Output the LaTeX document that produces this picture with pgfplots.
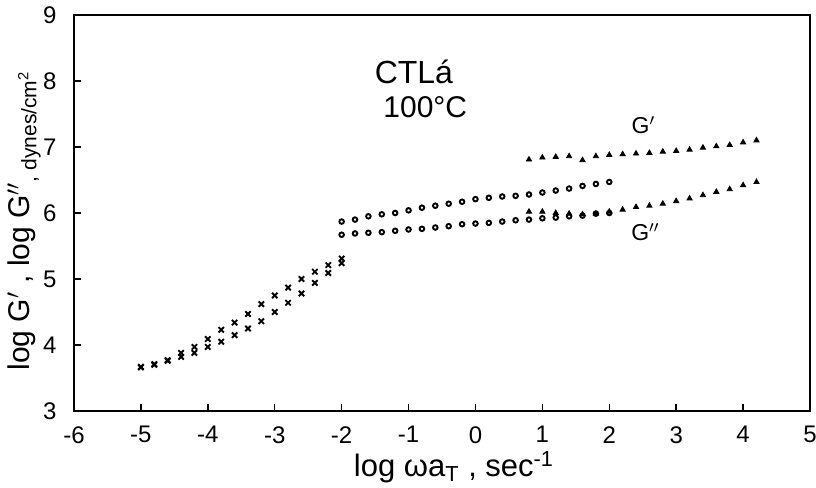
\documentclass[border=0pt]{standalone}
\usepackage{fontspec}
\setmainfont{Liberation Sans}
\usepackage{pgfplots}
\pgfplotsset{compat=1.18}
\usetikzlibrary{calc}

% Dynamic moduli of CTLa at 100 C, reduced to a common frequency scale
\pgfplotstableread{
x     gp     gpp
-5.0  3.67   3.66
-4.8  3.71   3.70
-4.6  3.77   3.76
-4.4  3.88   3.82
-4.2  3.97   3.88
-4.0  4.09   3.97
-3.8  4.23   4.05
-3.6  4.34   4.15
-3.4  4.47   4.25
-3.2  4.62   4.36
-3.0  4.75   4.50
-2.8  4.87   4.64
-2.6  5.00   4.78
-2.4  5.11   4.94
-2.2  5.21   5.09
-2.0  5.31   5.24
}\lowfreq

\pgfplotstableread{
x     gp     gpp
-2.0  5.87   5.67
-1.8  5.90   5.69
-1.6  5.95   5.70
-1.4  5.98   5.71
-1.2  6.00   5.73
-1.0  6.04   5.75
-0.8  6.08   5.76
-0.6  6.11   5.78
-0.4  6.14   5.80
-0.2  6.17   5.83
 0.0  6.21   5.84
 0.2  6.23   5.85
 0.4  6.25   5.87
 0.6  6.26   5.89
 0.8  6.28   5.90
 1.0  6.31   5.92
 1.2  6.34   5.93
 1.4  6.37   5.95
 1.6  6.41   5.96
 1.8  6.44   5.99
 2.0  6.47   6.00
}\midfreq

\pgfplotstableread{
x     gp     gpp
0.8   6.81   6.02
1.0   6.84   6.02
1.2   6.85   6.00
1.4   6.86   5.99
1.6   6.80   5.98
1.8   6.86   5.99
2.0   6.88   6.02
2.2   6.89   6.05
2.4   6.90   6.09
2.6   6.91   6.11
2.8   6.93   6.14
3.0   6.94   6.18
3.2   6.96   6.22
3.4   6.99   6.27
3.6   7.01   6.32
3.8   7.03   6.36
4.0   7.07   6.42
4.2   7.10   6.47
}\highfreq

\begin{document}
\begin{tikzpicture}
\begin{axis}[
  scale only axis,
  width=368pt, height=198pt,
  xmin=-6, xmax=5, ymin=3, ymax=9,
  xtick={-6,...,5}, ytick={3,...,9},
  xticklabels={-6,-5,-4,-3,-2,-1,0,1,2,3,4,5},
  yticklabels={3,4,5,6,7,8,9},
  xtick pos=bottom, ytick pos=left,
  tick align=inside,
  major tick length=3.5pt,
  axis line style={line width=0.8pt},
  every tick/.style={black, line width=0.7pt},
  tick label style={font=\fontsize{12}{14}\selectfont},
  xticklabel style={anchor=north, inner sep=0pt, yshift=-7.5pt},
  yticklabel style={anchor=east, inner sep=0pt, xshift=-8.5pt},
]
\coordinate (ll) at (rel axis cs:0,0);
\coordinate (ur) at (rel axis cs:1,1);

\addplot[only marks, mark=x, mark size=1.9pt, mark options={line width=0.95pt}]
  table[x=x, y=gp] {\lowfreq};
\addplot[only marks, mark=x, mark size=1.9pt, mark options={line width=0.95pt}]
  table[x=x, y=gpp] {\lowfreq};

\addplot[only marks, mark=o, mark size=1.15pt, mark options={line width=0.95pt}]
  table[x=x, y=gp] {\midfreq};
\addplot[only marks, mark=o, mark size=1.15pt, mark options={line width=0.95pt}]
  table[x=x, y=gpp] {\midfreq};

\addplot[only marks, mark=triangle*, mark size=1.5pt]
  table[x=x, y=gp] {\highfreq};
\addplot[only marks, mark=triangle*, mark size=1.5pt]
  table[x=x, y=gpp] {\highfreq};

\node[font=\fontsize{16}{18}\selectfont] at (-0.92,8.14) {CTLá};
\node[font=\fontsize{15}{18}\selectfont] at (-0.75,7.61) {100°C};
\node[font=\fontsize{11.5}{14}\selectfont] at (2.51,7.33) {G$'$};
\node[font=\fontsize{11.5}{14}\selectfont] at (2.54,5.71) {G$''$};
\end{axis}

% axis titles
\node[font=\fontsize{15.5}{18}\selectfont, inner sep=0.5pt] at ($(ll)!0.5!(ll-|ur)+(6pt,-28pt)$)
  {log ωa\textsubscript{T} , sec\textsuperscript{-1}};
\node[rotate=90, font=\fontsize{15}{18}\selectfont] at ($(ll)!0.5!(ll|-ur)+(-25pt,-4pt)$)
  {log G$'$ , log G$''$\raisebox{-0.4ex}{\fontsize{10.5}{12}\selectfont , dynes/cm\textsuperscript{2}}};

\pgfresetboundingbox
\path ([shift={(-37pt,-38.5pt)}]ll) rectangle ([shift={(3pt,7.5pt)}]ur);
\end{tikzpicture}
\end{document}
